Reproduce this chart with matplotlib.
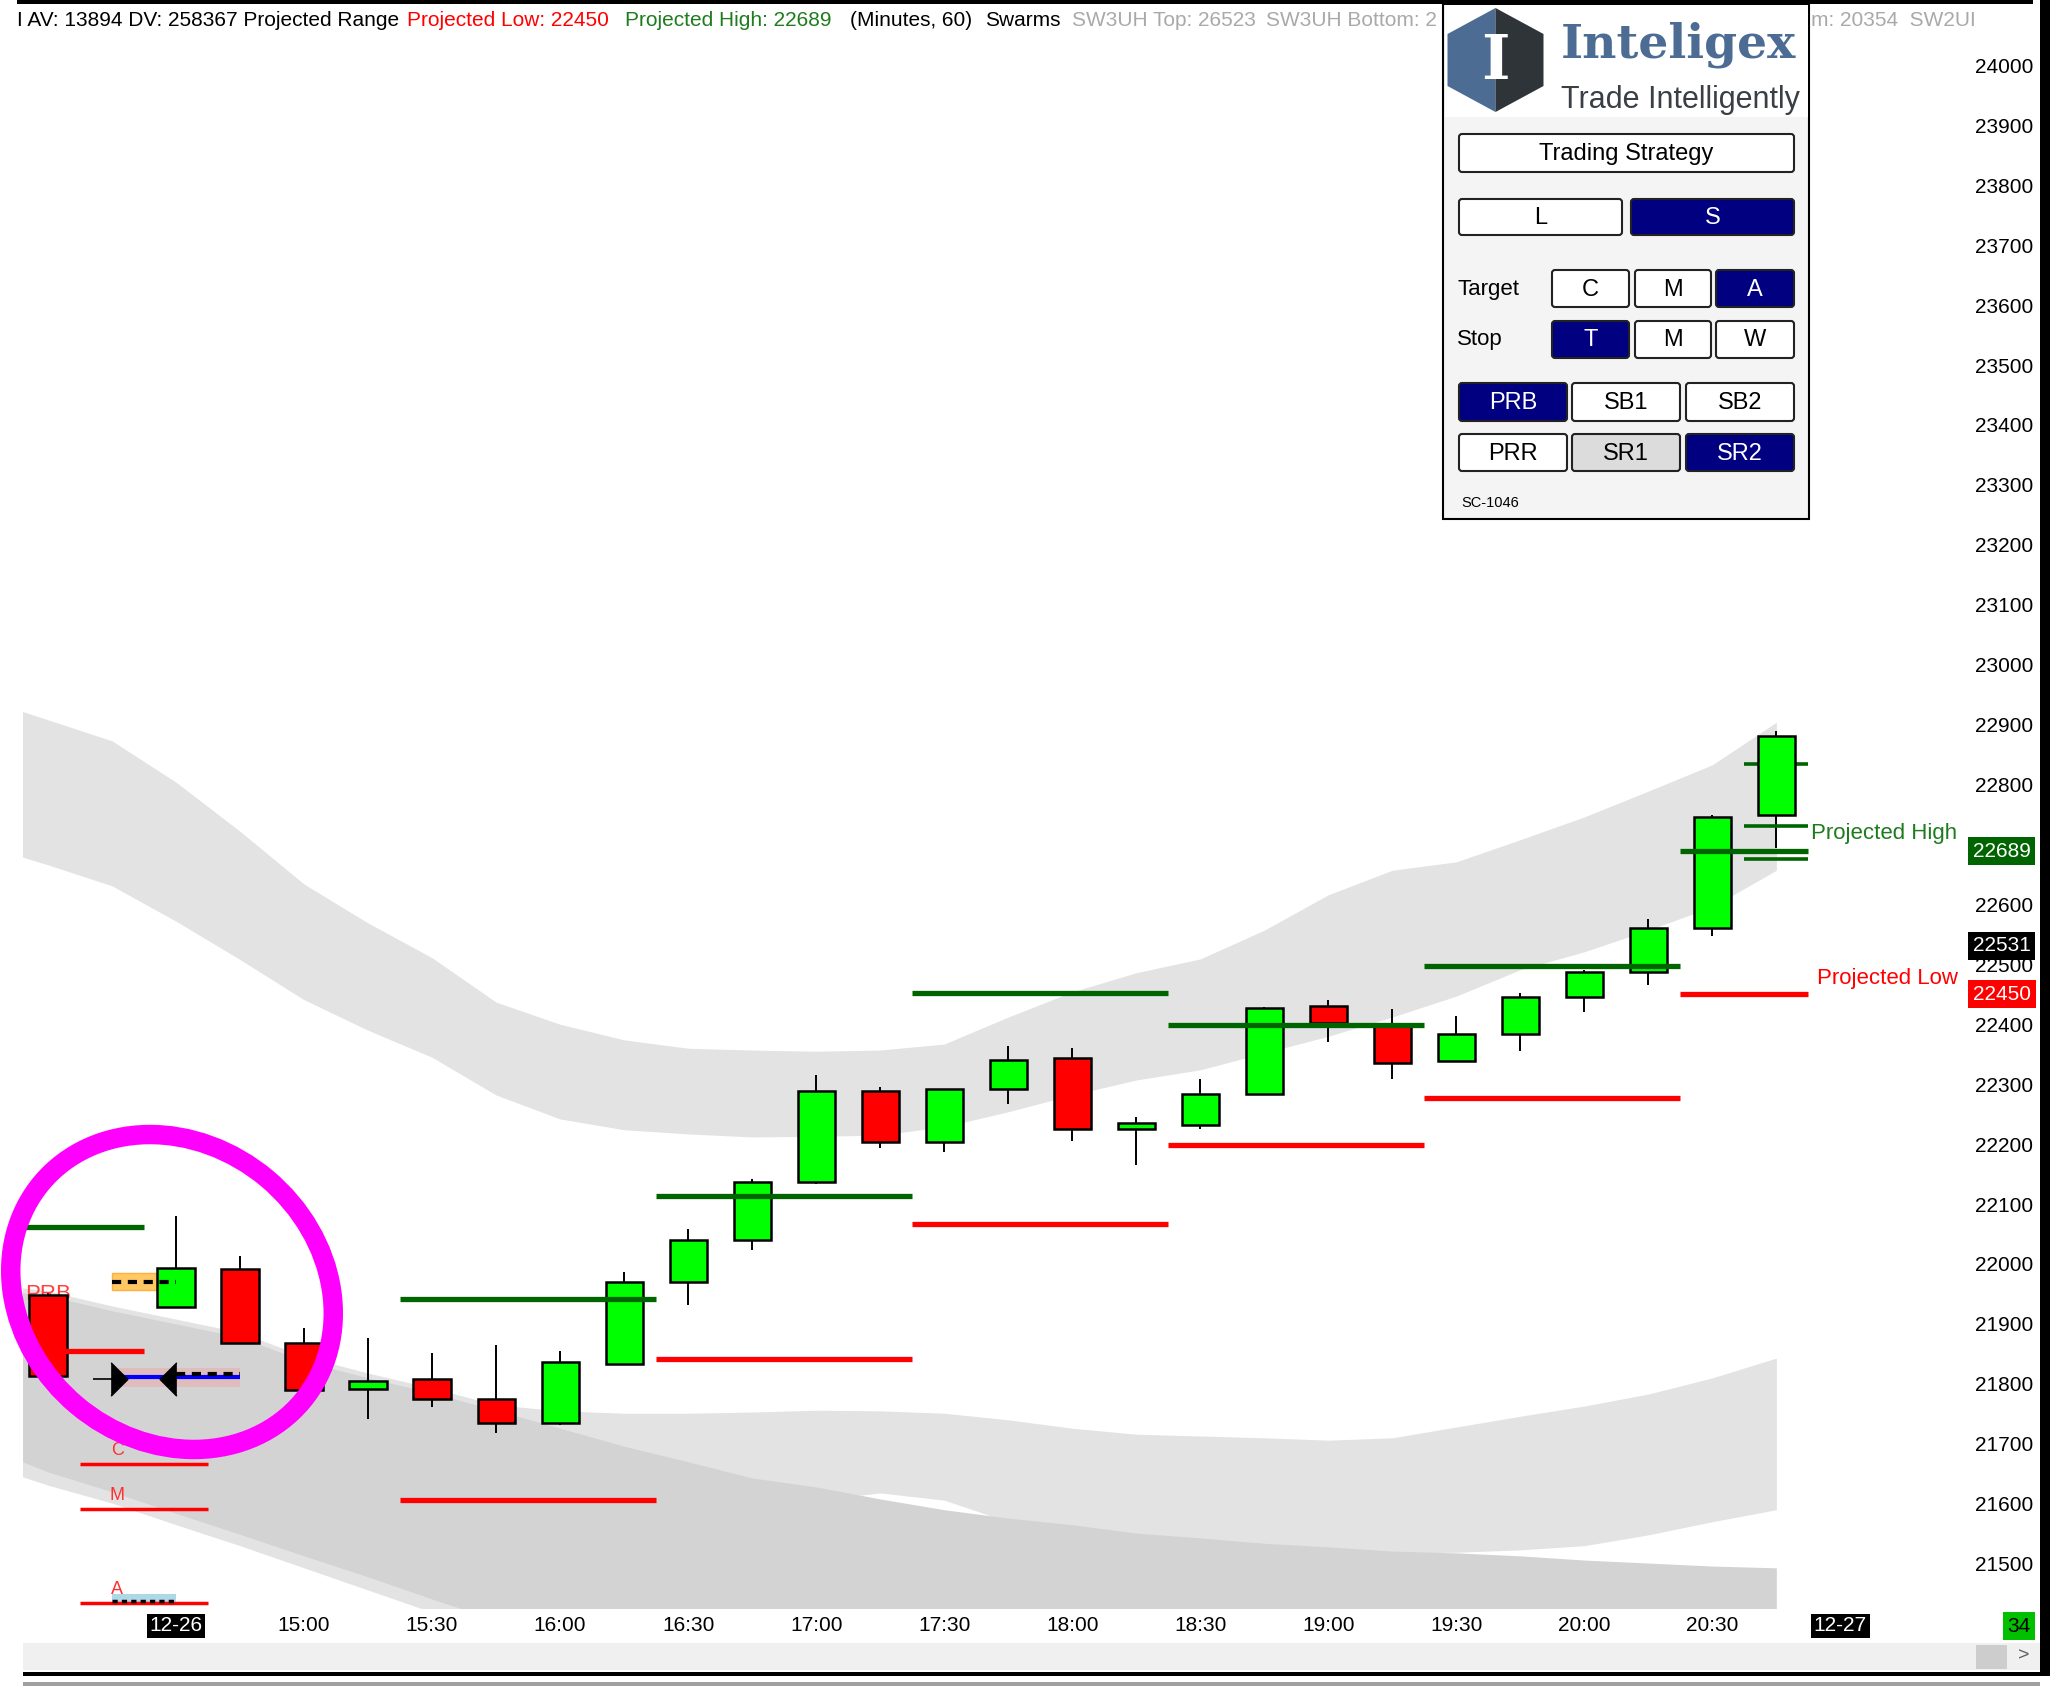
import numpy as np
import matplotlib
matplotlib.use('Agg')
import matplotlib.pyplot as plt
import matplotlib.transforms as mtransforms
from matplotlib import font_manager
from matplotlib.patches import Rectangle, Polygon, Ellipse, FancyBboxPatch

W, H = 2050, 1688

# 60 minute bars, bar 1 has no candle on the chart
bar_x = np.arange(28)
opens = [21948, np.nan, 21929, 21991, 21869, 21792, 21808, 21775, 21734, 21833, 21970, 22040, 22137, 22289,
         22204, 22292, 22344, 22225, 22232, 22283, 22430, 22400, 22338, 22384, 22445, 22488, 22560, 22750]
highs = [21953, np.nan, 22080, 22013, 21894, 21876, 21852, 21864, 21855, 21986, 22058, 22141, 22315, 22296,
         22292, 22364, 22361, 22245, 22309, 22429, 22440, 22425, 22413, 22452, 22490, 22575, 22750, 22890]
lows = [21813, np.nan, 21928, 21868, 21789, 21742, 21761, 21718, 21731, 21833, 21932, 22023, 22133, 22194,
        22187, 22267, 22206, 22166, 22225, 22282, 22370, 22309, 22337, 22355, 22420, 22466, 22547, 22694]
closes = [21813, np.nan, 21994, 21869, 21790, 21805, 21774, 21734, 21836, 21970, 22040, 22137, 22289, 22204,
          22292, 22341, 22225, 22235, 22283, 22427, 22402, 22335, 22384, 22445, 22488, 22560, 22746, 22881]

time_pos = np.arange(2, 29, 2)
time_labels = ['12-26', '15:00', '15:30', '16:00', '16:30', '17:00', '17:30', '18:00',
               '18:30', '19:00', '19:30', '20:00', '20:30', '12-27']

# projected range steps
step_start = [-0.5, 5.5, 9.5, 13.5, 17.5, 21.5, 25.5]
step_end = [1.5, 9.5, 13.5, 17.5, 21.5, 25.5, 27.5]
step_high = [22061, 21942, 22113, 22452, 22399, 22497, 22689]
step_low = [21854, 21606, 21841, 22067, 22198, 22277, 22450]

target_names = ['C', 'M', 'A']
target_levels = [21666, 21591, 21435]

proj_high = 22689
proj_low = 22450
last_price = 22531
last_bar_marks = [22834, 22730, 22675]

# swarm bands
band_x = np.concatenate([[-0.4], np.arange(28)])
upper_top = [22922, 22908, 22873, 22804, 22722, 22634, 22569, 22511, 22437, 22400, 22374, 22360, 22357, 22355, 22357,
             22367, 22412, 22454, 22486, 22509, 22557, 22616, 22657, 22671, 22708, 22746, 22789, 22833, 22904]
upper_bot = [22679, 22666, 22631, 22572, 22508, 22441, 22390, 22345, 22282, 22242, 22224, 22217, 22212, 22213, 22215,
             22229, 22254, 22282, 22307, 22324, 22352, 22380, 22412, 22447, 22491, 22521, 22557, 22596, 22657]
lower_top = [21960, 21955, 21930, 21908, 21886, 21846, 21818, 21793, 21765, 21755, 21751, 21751, 21753, 21756, 21755,
             21751, 21740, 21726, 21716, 21713, 21710, 21706, 21710, 21728, 21746, 21763, 21783, 21810, 21843]
lower_bot = [21645, 21631, 21601, 21565, 21530, 21493, 21456, 21419, 21389, 21406, 21456, 21506, 21556, 21606, 21618,
             21606, 21570, 21553, 21536, 21526, 21519, 21518, 21518, 21519, 21523, 21530, 21548, 21570, 21590]
deep_top = [21952, 21947, 21922, 21900, 21878, 21838, 21810, 21785, 21756, 21726, 21696, 21670, 21643, 21628, 21608,
            21590, 21576, 21565, 21551, 21543, 21534, 21528, 21521, 21518, 21513, 21506, 21501, 21496, 21493]
deep_bot = [21670, 21653, 21620, 21584, 21549, 21513, 21478, 21441, 21406, 21371, 21334, 21299] + [21290] * 17

names = {f.name for f in font_manager.fontManager.ttflist}
HAS_NARROW = 'Liberation Sans Narrow' in names
AX_FONT = 'Liberation Sans Narrow' if HAS_NARROW else 'Liberation Sans'
AX_SIZE = 17 if HAS_NARROW else 15
plt.rcParams['font.family'] = ['Liberation Sans', 'DejaVu Sans']

fig = plt.figure(figsize=(W / 100, H / 100), dpi=100)
fig.patch.set_facecolor('white')

ax = fig.add_axes([23 / W, 1 - 1608 / H, (1962 - 23) / W, (1608 - 30) / H])
ax.set_xlim(-0.39, 29.9)
ax.set_ylim(21426, 24059)
for s in ax.spines.values():
    s.set_visible(False)

# bands
ax.fill_between(band_x, upper_bot, upper_top, color='#E3E3E3', lw=0, zorder=1)
ax.fill_between(band_x, lower_bot, lower_top, color='#E3E3E3', lw=0, zorder=1)
ax.fill_between(band_x, deep_bot, deep_top, color='#D3D3D3', lw=0, zorder=1.1)

# candles
o = np.array(opens, float)
h = np.array(highs, float)
l = np.array(lows, float)
c = np.array(closes, float)
up = c >= o
ok = ~np.isnan(o)
ax.vlines(bar_x[ok], l[ok], h[ok], color='black', lw=1.4, zorder=3)
ax.bar(bar_x[ok], np.abs(c - o)[ok], bottom=np.minimum(o, c)[ok], width=0.58,
       color=np.where(up, '#00FF00', '#FF0000')[ok], edgecolor='black', linewidth=1.8, zorder=4)

# range steps
ax.hlines(step_high, step_start, step_end, color='#006400', lw=3.8, zorder=5)
ax.hlines(step_low, step_start, step_end, color='#FF0000', lw=3.8, zorder=5)
ax.hlines(last_bar_marks, 26.5, 27.5, color='#006400', lw=2.6, zorder=3.5)

# targets
ax.hlines(target_levels, 0.5, 2.5, color='#FF0000', lw=2.5, zorder=5, clip_on=False)
for name, lvl in zip(target_names, target_levels):
    ax.text(1.08, lvl + 8, name, color='#FF3030', fontsize=13, family=AX_FONT,
            ha='center', va='bottom', zorder=5)

# trade markers near the start
ax.add_patch(Rectangle((1.0, 21957), 1.0, 28, fc='#FFC864', ec='#FFB040', lw=1, zorder=3.5))
ax.hlines(21970, 1.0, 2.0, colors='black', linestyles=(0, (2.2, 1.6)), lw=3, zorder=6)
ax.add_patch(Rectangle((1.0, 21795), 2.0, 31, fc='#E6B4B4', alpha=0.7, lw=0, zorder=3.5))
ax.hlines(21812, 1.0, 3.0, colors='#0000FF', lw=3, zorder=6)
ax.hlines(21816, 2.0, 3.0, colors='black', linestyles=(0, (2.2, 1.6)), lw=3, zorder=6)
ax.hlines(21808, 0.7, 1.1, colors='black', lw=1.2, zorder=6)
ax.plot([1.117], [21808], marker=[(-0.5, -1), (0.5, 0), (-0.5, 1)], ms=24, color='black', zorder=7)
ax.plot([1.875], [21808], marker=[(0.5, -1), (-0.5, 0), (0.5, 1)], ms=24, color='black', zorder=7)
ax.add_patch(Rectangle((1.0, 21436), 1.0, 14, fc='#ADD8E6', lw=0, zorder=3.5, clip_on=False))
ax.hlines(21437, 1.0, 2.0, colors='black', linestyles=(0, (1.5, 1.2)), lw=2.5, zorder=6, clip_on=False)
ax.text(-0.36, 21940, 'PRB', color='#FF4040', fontsize=16, family=AX_FONT, va='baseline', ha='left', zorder=3.9)

# right side labels
ax.text(29.83, proj_high + 30, 'Projected High', color='#1E7B1E', fontsize=16, ha='right', va='center')
ax.text(29.83, proj_low + 27, 'Projected Low', color='#FF0000', fontsize=16, ha='right', va='center')
trans = mtransforms.blended_transform_factory(ax.transAxes, ax.transData)
lab_x = (1973 - 23) / (1962 - 23)
for val, fc in [(proj_high, '#006400'), (last_price, 'black'), (proj_low, '#FF0000')]:
    ax.text(lab_x, val, f'{val}', transform=trans, color='white', fontsize=AX_SIZE, family=AX_FONT,
            ha='left', va='center', clip_on=False, zorder=8,
            bbox=dict(boxstyle='square,pad=0.22', fc=fc, ec='none'))

# axes ticks
ax.set_xticks(time_pos)
ax.set_xticklabels(time_labels)
ax.tick_params(axis='x', length=0, pad=6, labelsize=AX_SIZE)
for t in ax.get_xticklabels():
    t.set_fontfamily(AX_FONT)
    if '-' in t.get_text():
        t.set_color('white')
        t.set_bbox(dict(facecolor='black', edgecolor='none', pad=2))
price_ticks = np.arange(21500, 24001, 100)
ax.set_yticks(price_ticks)
# the projected high box hides the price label right under it
ax.set_yticklabels(['' if abs(v - proj_high) < 30 else str(v) for v in price_ticks])
ax.yaxis.tick_right()
ax.tick_params(axis='y', length=0, pad=9.5, labelsize=AX_SIZE)
for t in ax.get_yticklabels():
    t.set_fontfamily(AX_FONT)

# overlay in pixel units for the window chrome
ov = fig.add_axes([0, 0, 1, 1], facecolor='none')
ov.set_xlim(0, W)
ov.set_ylim(H, 0)
ov.axis('off')

# hand drawn highlight round the entry
ov.add_patch(Ellipse((172, 1292), width=340, height=296, angle=40, fill=False, ec='#FF00FF', lw=14, zorder=2))

header = [('I AV: 13894 DV: 258367 Projected Range', 'black', 17),
          ('Projected Low: 22450', '#FF0000', 407),
          ('Projected High: 22689', '#1E7B1E', 625),
          ('(Minutes, 60)', 'black', 850),
          ('Swarms', 'black', 985),
          ('SW3UH Top: 26523', '#A9A9A9', 1072),
          ('SW3UH Bottom: 2', '#A9A9A9', 1266),
          ('m: 20354  SW2UI', '#A9A9A9', 1811)]
for txt, col, x0 in header:
    ov.text(x0, 20, txt, color=col, fontsize=15, va='center', ha='left', zorder=2)
ov.add_patch(Rectangle((17, 0), 2033 - 17, 4, fc='black', lw=0, zorder=3))
ov.add_patch(Rectangle((2040, 0), 10, 1676, fc='black', lw=0, zorder=3))

# strategy panel
navy = '#000080'
ov.add_patch(Rectangle((1443, 4), 366, 515, fc='#F4F4F4', ec='black', lw=1.5, zorder=5))
ov.add_patch(Rectangle((1445, 5), 363, 112, fc='white', ec='none', zorder=5.1))
cx, cy, hw, hh = 1495.5, 60, 48, 52
ov.add_patch(Polygon([(cx, cy - hh), (cx - hw, cy - hh / 2), (cx - hw, cy + hh / 2), (cx, cy + hh)],
                     closed=True, fc='#4C6C94', ec='none', zorder=5.2))
ov.add_patch(Polygon([(cx, cy - hh), (cx + hw, cy - hh / 2), (cx + hw, cy + hh / 2), (cx, cy + hh)],
                     closed=True, fc='#2F3439', ec='none', zorder=5.2))
ov.text(cx, cy + 2, 'I', family='DejaVu Serif', weight='bold', fontsize=44, color='white',
        ha='center', va='center', zorder=5.3)
ov.text(1561, 57, 'Inteligex', family='DejaVu Serif', weight='bold', fontsize=34, color='#4C6C94',
        ha='left', va='baseline', zorder=5.3)
ov.text(1561, 108, 'Trade Intelligently', family=AX_FONT, fontsize=27 if HAS_NARROW else 22,
        color='#3A3F46', ha='left', va='baseline', zorder=5.3)

buttons = [('Trading Strategy', 1459, 134, 335, 38, 'white'),
           ('L', 1459, 199, 163, 36, 'white'), ('S', 1631, 199, 163, 36, navy),
           ('C', 1552, 270, 77, 37, 'white'), ('M', 1635, 270, 76, 37, 'white'), ('A', 1716, 270, 78, 37, navy),
           ('T', 1552, 321, 77, 37, navy), ('M', 1635, 321, 76, 37, 'white'), ('W', 1716, 321, 78, 37, 'white'),
           ('PRB', 1459, 383, 108, 38, navy), ('SB1', 1572, 383, 108, 38, 'white'), ('SB2', 1686, 383, 108, 38, 'white'),
           ('PRR', 1459, 434, 108, 37, 'white'), ('SR1', 1572, 434, 108, 37, '#DCDCDC'), ('SR2', 1686, 434, 108, 37, navy)]
for txt, x0, y0, bw, bh, fc in buttons:
    ov.add_patch(FancyBboxPatch((x0, y0), bw, bh, boxstyle='round,pad=0,rounding_size=3',
                                fc=fc, ec='#222222', lw=1.5, zorder=5.2))
    ov.text(x0 + bw / 2, y0 + bh / 2 + 1, txt, color='white' if fc == navy else 'black',
            fontsize=17, ha='center', va='center', zorder=5.3)
ov.text(1457, 289, 'Target', fontsize=16, ha='left', va='center', zorder=5.3)
ov.text(1457, 340, 'Stop', fontsize=16, ha='left', va='center', zorder=5.3)
ov.text(1461, 503, 'SC-1046', fontsize=10.5, ha='left', va='center', zorder=5.3)

# bar counter and scroll bar
ov.text(2019, 1626, '34', fontsize=AX_SIZE, family=AX_FONT, color='black', ha='center', va='center',
        bbox=dict(boxstyle='square,pad=0.2', fc='#00C000', ec='none'), zorder=4)
ov.add_patch(Rectangle((23, 1643), 2017, 27, fc='#F0F0F0', lw=0, zorder=3))
ov.add_patch(Rectangle((1976, 1645), 31, 24, fc='#CDCDCD', lw=0, zorder=3.1))
ov.text(2024, 1656, '>', fontsize=14, color='#606060', ha='center', va='center', zorder=3.2)
ov.add_patch(Rectangle((23, 1672), 2017, 4, fc='black', lw=0, zorder=3))
ov.add_patch(Rectangle((23, 1682), 2017, 4, fc='#A0A0A0', lw=0, zorder=3))

fig.savefig('out.png', dpi=100)
